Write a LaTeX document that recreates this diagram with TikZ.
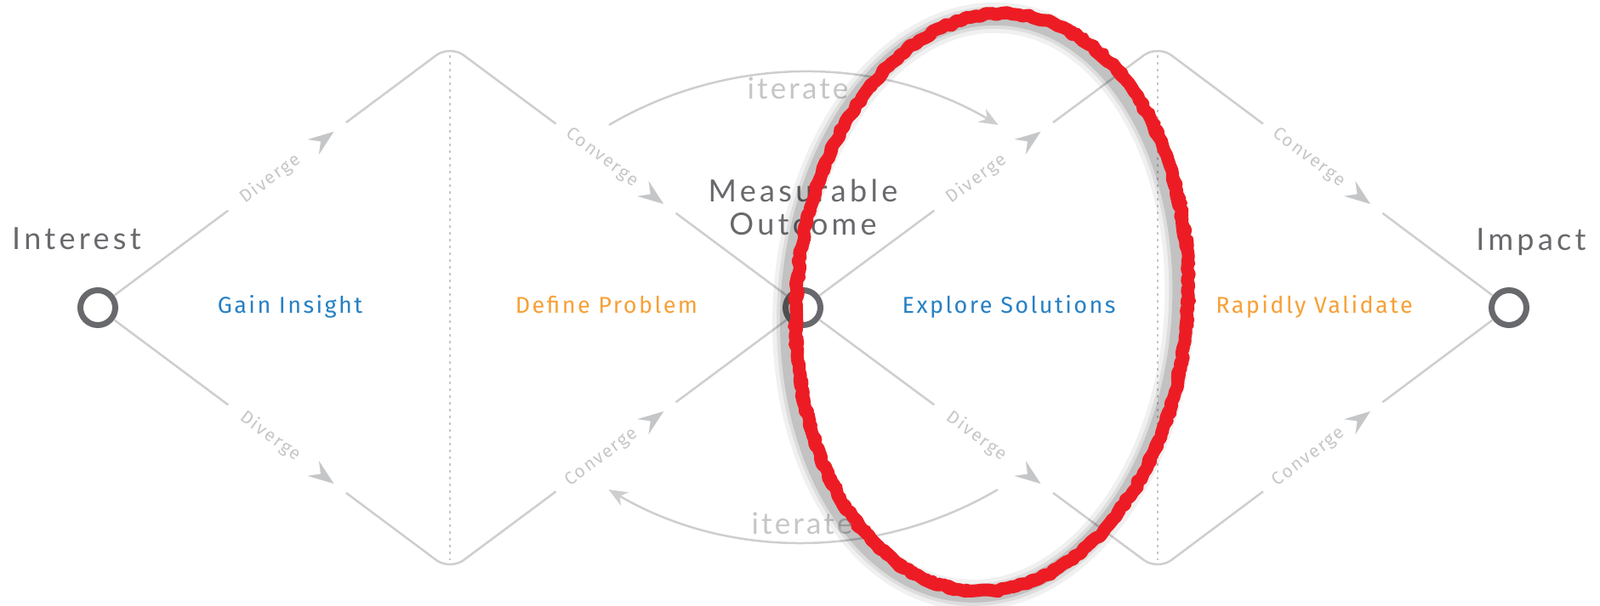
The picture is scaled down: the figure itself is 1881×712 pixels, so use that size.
\documentclass[tikz,border=0pt]{standalone}
\usepackage{fontspec}
\usepackage{tikz}
\usetikzlibrary{arrows.meta, calc, positioning, decorations.pathmorphing}
\newfontfamily\titlefont[LetterSpace=12]{Lato}
\newfontfamily\notefont[LetterSpace=9]{Lato}
\newfontfamily\phasefont[LetterSpace=9]{Fira Sans}
\definecolor{darkgrey}{RGB}{104,105,108}
\definecolor{linegrey}{RGB}{206,206,206}
\definecolor{taggrey}{RGB}{198,198,198}
\definecolor{tipgrey}{RGB}{196,198,200}
\definecolor{phaseblue}{RGB}{38,128,196}
\definecolor{phaseorange}{RGB}{247,160,55}
\definecolor{markred}{RGB}{237,28,36}

\begin{document}
\begin{tikzpicture}[
    x=1pt, y=1pt,
    milestone/.style={circle, draw=darkgrey, line width=7pt, minimum size=41pt, inner sep=0pt},
    title/.style={font=\titlefont\fontsize{36}{39}\selectfont, text=darkgrey, align=center, anchor=base},
    phase/.style={font=\phasefont\fontsize{27}{30}\selectfont, anchor=base},
    flow/.style={linegrey, line width=2.5pt},
    tag/.style={font=\phasefont\fontsize{21}{24}\selectfont, text=taggrey, sloped, inner sep=0pt},
    tip/.style={tipgrey, line width=0.1pt, -{Stealth[length=30pt, width=22pt, inset=11pt]}},
    iterloop/.style={linegrey, line width=2.5pt, -{Stealth[length=22pt, width=18pt, inset=7pt]}},
    note/.style={font=\notefont\fontsize{35}{40}\selectfont, text=taggrey, anchor=base},
    divider/.style={draw=taggrey, line width=2.5pt, dash pattern=on 3pt off 5pt}
]
    \useasboundingbox (0,0) rectangle (1881,712);

    % Milestones
    \node[milestone] (interest) at (115, 350) {};
    \node[milestone] (outcome) at (944, 350) {};
    \node[milestone] (impact) at (1774, 350) {};
    \coordinate (topL) at (529, 659);
    \coordinate (botL) at (529, 41);
    \coordinate (topR) at (1361, 659);
    \coordinate (botR) at (1361, 41);

    \node[title] (interestlbl) at (90, 418) {Interest};
    \node[title] (impactlbl) at (1800, 417) {Impact};
    \node[title, above=58pt of outcome] (outcomelbl) {Measurable\\Outcome};

    % Phases
    \node[phase, text=phaseblue] (gain) at (341, 343) {Gain Insight};
    \node[phase, text=phaseorange] (define) at (713, 343) {Define Problem};
    \node[phase, text=phaseblue] (explore) at (1186, 343) {Explore Solutions};
    \node[phase, text=phaseorange] (validate) at (1545, 343) {Rapidly Validate};

    % Dividers
    \draw[divider] ($(topL)+(0,-12)$) -- ($(botL)+(0,12)$);
    \draw[divider] ($(topR)+(0,-12)$) -- ($(botR)+(0,12)$);

    % First diamond, upper half
    \draw[flow] (interest) -- ($(interest)!0.37!(topL)$);
    \path (interest.center) -- (topL) node[tag, pos=0.49] {Diverge};
    \draw[tip] ($(interest)!0.64!(topL)$) -- ($(interest)!0.67!(topL)$);
    \draw[flow, rounded corners=20pt] ($(interest)!0.705!(topL)$) -- (topL) -- ($(topL)!0.3!(outcome)$);
    \path (topL) -- (outcome.center) node[tag, pos=0.43] {Converge};
    \draw[tip] ($(topL)!0.575!(outcome)$) -- ($(topL)!0.605!(outcome)$);
    \draw[flow] ($(topL)!0.64!(outcome)$) -- (outcome);

    % First diamond, lower half
    \draw[flow] (interest) -- ($(interest)!0.37!(botL)$);
    \path (interest.center) -- (botL) node[tag, pos=0.49] {Diverge};
    \draw[tip] ($(interest)!0.64!(botL)$) -- ($(interest)!0.67!(botL)$);
    \draw[flow, rounded corners=20pt] ($(interest)!0.705!(botL)$) -- (botL) -- ($(botL)!0.3!(outcome)$);
    \path (botL) -- (outcome.center) node[tag, pos=0.43] {Converge};
    \draw[tip] ($(botL)!0.575!(outcome)$) -- ($(botL)!0.605!(outcome)$);
    \draw[flow] ($(botL)!0.64!(outcome)$) -- (outcome);

    % Second diamond, upper half
    \draw[flow] (outcome) -- ($(outcome)!0.37!(topR)$);
    \path (outcome.center) -- (topR) node[tag, pos=0.49] {Diverge};
    \draw[tip] ($(outcome)!0.64!(topR)$) -- ($(outcome)!0.67!(topR)$);
    \draw[flow, rounded corners=20pt] ($(outcome)!0.705!(topR)$) -- (topR) -- ($(topR)!0.3!(impact)$);
    \path (topR) -- (impact.center) node[tag, pos=0.43] {Converge};
    \draw[tip] ($(topR)!0.575!(impact)$) -- ($(topR)!0.605!(impact)$);
    \draw[flow] ($(topR)!0.64!(impact)$) -- (impact);

    % Second diamond, lower half
    \draw[flow] (outcome) -- ($(outcome)!0.37!(botR)$);
    \path (outcome.center) -- (botR) node[tag, pos=0.49] {Diverge};
    \draw[tip] ($(outcome)!0.64!(botR)$) -- ($(outcome)!0.67!(botR)$);
    \draw[flow, rounded corners=20pt] ($(outcome)!0.705!(botR)$) -- (botR) -- ($(botR)!0.3!(impact)$);
    \path (botR) -- (impact.center) node[tag, pos=0.43] {Converge};
    \draw[tip] ($(botR)!0.575!(impact)$) -- ($(botR)!0.605!(impact)$);
    \draw[flow] ($(botR)!0.64!(impact)$) -- (impact);

    % Iterate loops
    \coordinate (loopup) at (716, 565);
    \coordinate (loopdown) at (1173, 136);
    \draw[iterloop] (loopup) arc[start angle=120.4, end angle=59.6, radius=452];
    \draw[iterloop] (loopdown) arc[start angle=-59.6, end angle=-120.4, radius=452];
    \node[note] (iterup) at (938, 595) {iterate};
    \node[note] (iterdown) at (943, 84) {iterate};

    % Highlight
    \begin{scope}[shift={(1166, 356)}, rotate=-4]
        \draw[black, opacity=0.06, line width=36pt, shift={(-9,-5)}] (0,0) ellipse[x radius=230, y radius=340];
        \draw[black, opacity=0.08, line width=26pt, shift={(-9,-5)}] (0,0) ellipse[x radius=230, y radius=340];
        \draw[black, opacity=0.12, line width=18pt, shift={(-9,-5)}] (0,0) ellipse[x radius=230, y radius=340];
        \draw[markred, line width=15pt, line join=round, decorate, decoration={random steps, segment length=6pt, amplitude=1.8pt}] (0,0) ellipse[x radius=230, y radius=340];
        \draw[markred, line width=10pt, line join=round, decorate, decoration={random steps, segment length=4pt, amplitude=2.5pt}] (2,1) ellipse[x radius=230, y radius=340];
    \end{scope}
\end{tikzpicture}
\end{document}
